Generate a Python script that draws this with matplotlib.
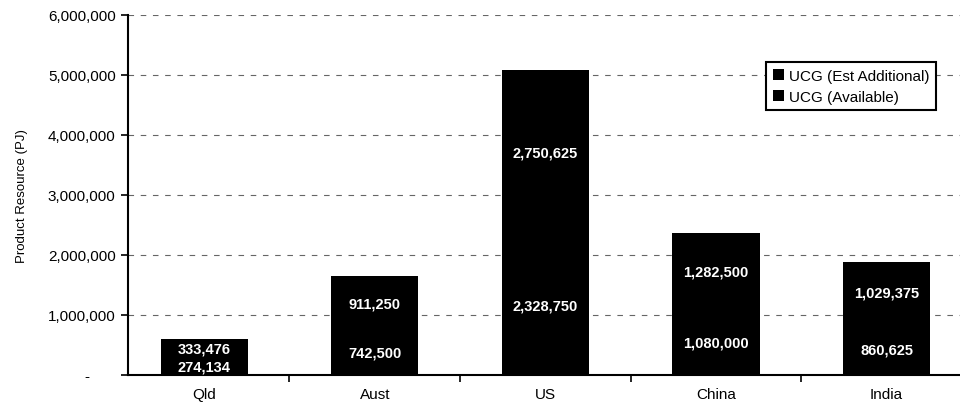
import numpy as np
import matplotlib.pyplot as plt
from matplotlib.ticker import FuncFormatter

plt.rcParams['font.family'] = ['Liberation Sans', 'DejaVu Sans']

regions = ['Qld', 'Aust', 'US', 'China', 'India']
available = [274134, 742500, 2328750, 1080000, 860625]
est_additional = [333476, 911250, 2750625, 1282500, 1029375]

fig = plt.figure(figsize=(9.6, 4.1), dpi=100)
ax = fig.add_axes([0.1335, 0.083, 0.8665, 0.878])

x = np.arange(len(regions))
avail = np.array(available)
extra = np.array(est_additional)

b1 = ax.bar(x, avail, width=0.51, color='black', label='UCG (Available)')
b2 = ax.bar(x, extra, width=0.51, bottom=avail, color='black', label='UCG (Est Additional)')

for i in range(len(regions)):
    ax.text(x[i], avail[i] / 2, f'{avail[i]:,}', ha='center', va='center',
            color='white', fontsize=10.5, fontweight='bold')
    ax.text(x[i], avail[i] + extra[i] / 2, f'{extra[i]:,}', ha='center', va='center',
            color='white', fontsize=10.5, fontweight='bold')

ax.set_ylim(0, 6000000)
ax.set_xlim(-0.445, 4.43)
ax.set_yticks(np.arange(0, 6000001, 1000000))
ax.yaxis.set_major_formatter(FuncFormatter(lambda v, p: '-      ' if v == 0 else f'{int(v):,}'))
ax.set_xticks(x)
ax.set_xticklabels(regions)
ax.set_xticks(np.arange(0.5, 4.5, 1), minor=True)
ax.tick_params(axis='x', which='major', length=0, labelsize=11, pad=9)
ax.tick_params(axis='x', which='minor', length=5, direction='out', width=1.2)
ax.tick_params(axis='y', labelsize=11, length=5, direction='out', width=1.2, pad=4)
ax.set_ylabel('Product Resource (PJ)', fontsize=9.5, labelpad=14)

ax.grid(axis='y', linestyle=(0, (5, 6)), color='#666666', linewidth=0.8)
ax.set_axisbelow(True)
for s in ['top', 'right']:
    ax.spines[s].set_visible(False)
ax.spines['left'].set_linewidth(1.5)
ax.spines['bottom'].set_linewidth(1.5)

handles = [b2, b1]
leg = ax.legend(handles, [h.get_label() for h in handles], loc='upper right',
                bbox_to_anchor=(0.971, 0.87), fontsize=11, frameon=True, fancybox=False,
                framealpha=1, edgecolor='black', handlelength=0.7, handleheight=0.7,
                handletextpad=0.3, borderpad=0.45, labelspacing=0.45, borderaxespad=0)
leg.get_frame().set_linewidth(1.5)

fig.savefig('out.png', dpi=100)
